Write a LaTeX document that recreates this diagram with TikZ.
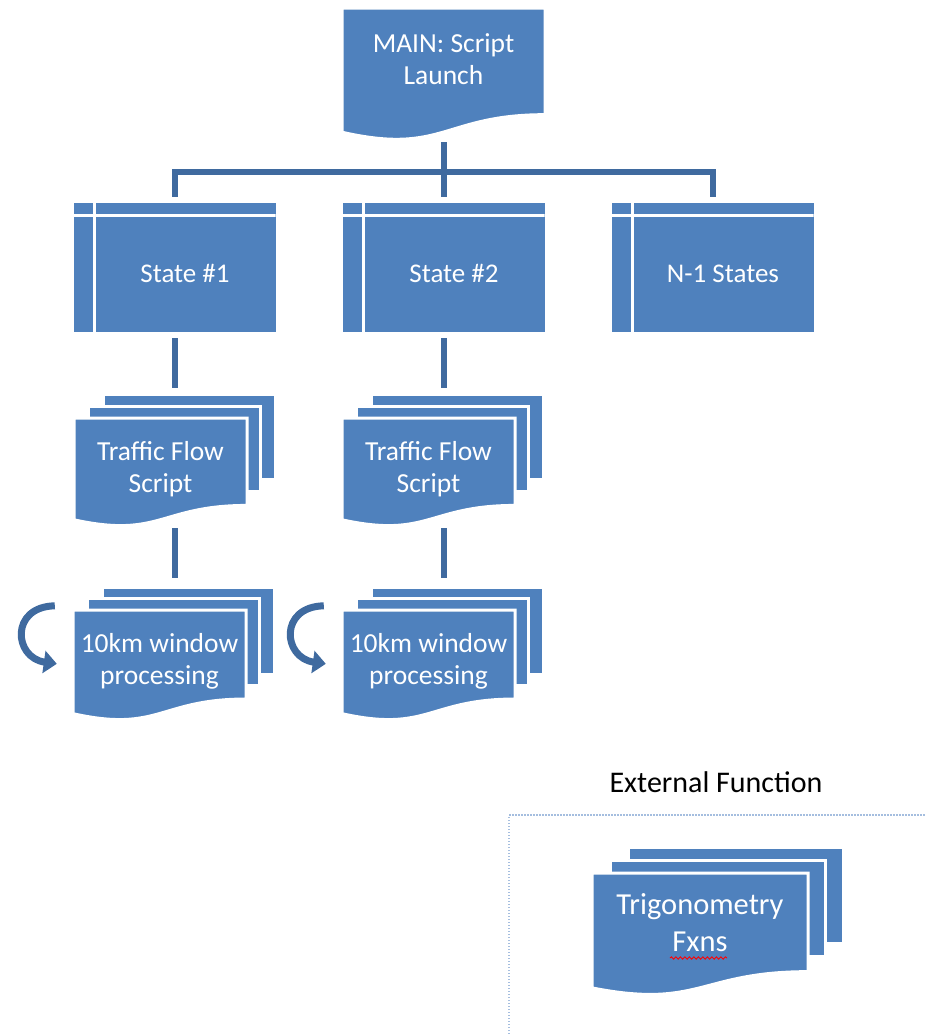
\documentclass[tikz,border=0pt]{standalone}
\usepackage{fontspec}
\setmainfont{Carlito}
\usetikzlibrary{arrows.meta,calc,decorations.pathmorphing}
\definecolor{shapeblue}{HTML}{4F81BD}
\definecolor{linkblue}{HTML}{3F6A9F}
\definecolor{framecolor}{HTML}{A5BEDF}

\newcommand{\docshape}[4]{%
  \filldraw[sheet] (#1,#2) -- ++(#3,0) -- ++(0,{0.802*#4})
    .. controls ({#1+0.5*#3},{#2+0.802*#4}) and ({#1+0.5*#3},{#2+1.107*#4})
    .. (#1,{#2+0.934*#4}) -- cycle;}
\newcommand{\multidoc}[6]{%
  \filldraw[sheet] ({#1+2*#5},{#2-2*#6}) rectangle ++({#3-1},{0.785*#4});
  \filldraw[sheet] ({#1+#5},{#2-#6}) rectangle ++({#3-1},{0.785*#4});
  \docshape{#1}{#2}{#3}{#4}}

\begin{document}
\begin{tikzpicture}[x=1pt,y=-1pt,
    sheet/.style={fill=shapeblue,draw=white,line width=3pt},
    doctext/.style={align=center,text=white,inner sep=0pt,
      font=\fontsize{27.5}{32}\selectfont},
    state/.style={fill=shapeblue,inner sep=0pt,
      minimum width=202pt,minimum height=129pt,
      path picture={
        \draw[white,line width=3pt]
          ([xshift=21pt]path picture bounding box.north west) --
          ([xshift=21pt]path picture bounding box.south west)
          ([yshift=-12pt]path picture bounding box.north west) --
          ([yshift=-12pt]path picture bounding box.north east);}},
    statelabel/.style={text=white,xshift=10.5pt,yshift=-6pt,
      font=\fontsize{27}{32}\selectfont},
    link/.style={draw=linkblue,line width=6pt},
    turn/.style={draw=linkblue,line width=7pt,
      -{Triangle[length=13pt,width=22pt]}}]
  \useasboundingbox (0,0) rectangle (926,1034);

  \docshape{342}{8}{203}{133}
  \multidoc{74}{418}{173}{109}{14.5}{12}
  \multidoc{342}{418}{173}{109}{14.5}{12}
  \multidoc{73}{610}{173}{111}{14.5}{11.5}
  \multidoc{342}{610}{173}{111}{14.5}{11.5}
  \multidoc{592}{873}{216}{123}{18}{13}

  \node[doctext,minimum width=203pt,minimum height=107pt] (main)
    at (443.5,59.3) {MAIN: Script\\Launch};
  \node[state,label={[statelabel]center:State \#1}] (s1) at (174.5,267.5) {};
  \node[state,label={[statelabel]center:State \#2}] (s2) at (443.5,267.5) {};
  \node[state,label={[statelabel]center:N-1 States}] (sn) at (712.5,267.5) {};
  \node[doctext,minimum width=173pt,minimum height=87pt] (tf1)
    at (160.5,468.7) {Traffic Flow\\Script};
  \node[doctext,minimum width=173pt,minimum height=87pt] (tf2)
    at (428.5,468.7) {Traffic Flow\\Script};
  \node[doctext,minimum width=173pt,minimum height=89pt] (w1)
    at (159.5,661.5) {10km window\\processing};
  \node[doctext,minimum width=173pt,minimum height=89pt] (w2)
    at (428.5,661.5) {10km window\\processing};
  \node[doctext,minimum width=216pt,minimum height=99pt,
    font=\fontsize{30.5}{37}\selectfont] (trig)
    at (700,922.5) {Trigonometry\\Fxns};
  \node[font=\fontsize{30}{36}\selectfont] (ext) at (716,782) {External Function};

  \draw[draw=framecolor,line width=1.5pt,dash pattern=on 1.5pt off 1.5pt]
    (509,1034) |- (926,815);
  \draw[red,line width=0.9pt,decorate,
    decoration={snake,amplitude=1.2pt,segment length=4.5pt}]
    (670,958) -- (727,958);

  \begin{scope}
    \draw[link] ([yshift=-29pt]main.south) -- ([yshift=6pt]s2.north);
    \draw[link] ([yshift=6pt]s1.north) |- ([yshift=31pt]s2.north)
      -| ([yshift=6pt]sn.north);
    \draw[link] ([yshift=-6pt]s1.south) -- ([yshift=37pt]s1.south |- tf1.north);
    \draw[link] ([yshift=-6pt]s2.south) -- ([yshift=37pt]s2.south |- tf2.north);
    \draw[link,shorten <=16pt,shorten >=39pt]
      (s1.south |- tf1.south) -- (s1.south |- w1.north);
    \draw[link,shorten <=16pt,shorten >=39pt]
      (s2.south |- tf2.south) -- (s2.south |- w2.north);
  \end{scope}

  \draw[turn] ($(w1.north west)+(-18,-11)$)
    .. controls ($(w1.north west)+(-63,-10)$) and ($(w1.north west)+(-59,41)$)
    .. ($(w1.north west)+(-16,47)$);
  \draw[turn] ($(w2.north west)+(-18,-11)$)
    .. controls ($(w2.north west)+(-63,-10)$) and ($(w2.north west)+(-59,41)$)
    .. ($(w2.north west)+(-16,47)$);
\end{tikzpicture}
\end{document}
